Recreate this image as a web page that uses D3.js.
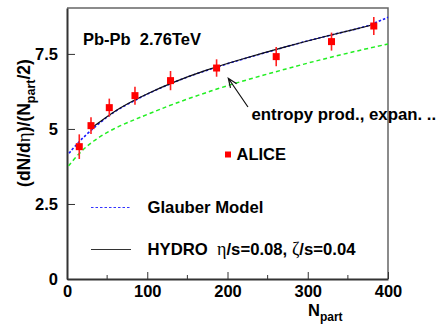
<!DOCTYPE html>
<html><head><meta charset="utf-8">
<script src="https://cdn.jsdelivr.net/npm/d3@7"></script>
<style>
html,body{margin:0;padding:0;background:#fff;}
svg{display:block;}
text{font-family:"Liberation Sans",Arial,sans-serif;font-weight:bold;fill:#000;}
.gk{font-family:"Liberation Serif","DejaVu Serif",serif;font-weight:normal;}
</style></head>
<body>
<script>
// ALICE data
const aliceNpart = [15.3, 29.9, 52.7, 84.7, 129, 186.4, 260.7, 329.6, 382.3];
const aliceVal   = [4.41, 5.11, 5.71, 6.11, 6.61, 7.03, 7.41, 7.91, 8.43];
const aliceErr   = [0.41, 0.28, 0.30, 0.30, 0.32, 0.29, 0.32, 0.30, 0.30];
// Glauber model (blue dotted)
const glauberN   = [2.5, 15, 28, 45, 61, 86, 98, 132, 174, 215, 278, 319, 361, 377, 400];
const glauberV   = [4.19, 4.58, 4.91, 5.30, 5.62, 5.97, 6.14, 6.56, 6.96, 7.30, 7.78, 8.07, 8.33, 8.45, 8.72];
// HYDRO (black solid)
const hydroN     = [32, 61, 86, 98, 132, 174, 215, 278, 319, 361, 378];
const hydroV     = [5.06, 5.64, 5.99, 6.15, 6.56, 6.97, 7.31, 7.78, 8.07, 8.33, 8.45];
// entropy production (green dashed)
const greenN     = [2, 15, 32, 57, 82, 98, 132, 174, 211, 278, 315, 361, 400];
const greenV     = [3.77, 4.19, 4.60, 5.00, 5.29, 5.46, 5.83, 6.22, 6.54, 7.04, 7.30, 7.60, 7.83];
// ticks
const xTicks = [0, 100, 200, 300, 400];
const xMinor = [50, 150, 250, 350];
const yTicks = [0, 2.5, 5, 7.5];
const yTickLabels = ["0", "2.5", "5", "7.5"];
// arrow annotation (data coords): tail -> tip
const arrowTail = [225.5, 5.73];
const arrowTip  = [201, 6.69];

const W = 440, H = 325;
const svg = d3.select("body").append("svg").attr("width", W).attr("height", H);
const x = d3.scaleLinear().domain([0, 400]).range([67, 388]);
const y = d3.scaleLinear().domain([0, 9.03]).range([279, 8]);

// frame (top/right)
svg.append("path")
  .attr("d", `M${x(0)},${y(9.03)}H${x(400)}V${y(0)}`)
  .attr("fill", "none").attr("stroke", "#666").attr("stroke-width", 1.5);

// x axis
const xAx = svg.append("g").attr("transform", `translate(0,${y(0)})`)
  .call(d3.axisBottom(x).tickValues(xTicks).tickSizeInner(-7).tickSizeOuter(0).tickPadding(10).tickFormat(d3.format("d")));
xAx.selectAll(".tick text").attr("font-size", 16.5).attr("dy", "0.71em").attr("y", 6);
svg.append("g").selectAll("line").data(xMinor).join("line")
  .attr("x1", d => x(d)).attr("x2", d => x(d)).attr("y1", y(0)).attr("y2", y(0) - 4)
  .attr("stroke", "#333").attr("stroke-width", 1);
// y axis
const yAx = svg.append("g").attr("transform", `translate(${x(0)},0)`)
  .call(d3.axisLeft(y).tickValues(yTicks).tickSizeInner(-8).tickSizeOuter(0).tickPadding(10)
    .tickFormat((d, i) => yTickLabels[i]));
yAx.selectAll(".tick text").attr("font-size", 16.5).attr("x", -9);
[xAx, yAx].forEach(a => {
  a.select(".domain").attr("stroke", "#333").attr("stroke-width", 2);
  a.selectAll(".tick line").attr("stroke", "#333").attr("stroke-width", 1);
  a.selectAll(".tick text").attr("font-family", null).attr("fill", "#000");
});

const line = d3.line().x(d => x(d[0])).y(d => y(d[1])).curve(d3.curveBasis);
const zip = (a, b) => a.map((v, i) => [v, b[i]]);

// green dashed
svg.append("path").datum(zip(greenN, greenV)).attr("d", line)
  .attr("fill", "none").attr("stroke", "#22ee22").attr("stroke-width", 1.5).attr("stroke-dasharray", "4,3");
// blue dotted
svg.append("path").datum(zip(glauberN, glauberV)).attr("d", line)
  .attr("fill", "none").attr("stroke", "#1a1aff").attr("stroke-width", 1.6).attr("stroke-dasharray", "2.5,2");
// hydro black
svg.append("path").datum(zip(hydroN, hydroV)).attr("d", line)
  .attr("fill", "none").attr("stroke", "#111").attr("stroke-width", 1.2);

// ALICE points
const pts = aliceNpart.map((n, i) => ({ n, v: aliceVal[i], e: aliceErr[i] }));
svg.append("g").selectAll("line").data(pts).join("line")
  .attr("x1", d => x(d.n)).attr("x2", d => x(d.n))
  .attr("y1", d => y(d.v - d.e)).attr("y2", d => y(d.v + d.e))
  .attr("stroke", "#ff2020").attr("stroke-width", 1.6);
svg.append("g").selectAll("rect").data(pts).join("rect")
  .attr("x", d => x(d.n) - 3.5).attr("y", d => y(d.v) - 3.5)
  .attr("width", 7).attr("height", 7).attr("fill", "#ff0000");

// arrow
const ax1 = x(arrowTail[0]), ay1 = y(arrowTail[1]), ax2 = x(arrowTip[0]), ay2 = y(arrowTip[1]);
const ang = Math.atan2(ay1 - ay2, ax1 - ax2);
const hl = 10, ha = 0.38;
svg.append("path")
  .attr("d", `M${ax1},${ay1}L${ax2},${ay2}M${ax2 + hl * Math.cos(ang - ha)},${ay2 + hl * Math.sin(ang - ha)}L${ax2},${ay2}L${ax2 + hl * Math.cos(ang + ha)},${ay2 + hl * Math.sin(ang + ha)}`)
  .attr("fill", "none").attr("stroke", "#111").attr("stroke-width", 1.2);

// texts
svg.append("text").attr("x", 83).attr("y", 45).attr("font-size", 16.5).attr("xml:space", "preserve").text("Pb-Pb  2.76TeV");
svg.append("text").attr("x", 251.5).attr("y", 119.5).attr("font-size", 16.8).text("entropy prod., expan. ..");

// legend
svg.append("rect").attr("x", 225).attr("y", 151.5).attr("width", 6).attr("height", 6).attr("fill", "#ff0000");
svg.append("text").attr("x", 236.5).attr("y", 159.5).attr("font-size", 16.5).text("ALICE");
svg.append("line").attr("x1", 91).attr("x2", 131).attr("y1", 207.5).attr("y2", 207.5)
  .attr("stroke", "#3333ff").attr("stroke-width", 1.2).attr("stroke-dasharray", "2.5,2");
svg.append("text").attr("x", 147.5).attr("y", 212.5).attr("font-size", 16.7).text("Glauber Model");
svg.append("line").attr("x1", 91).attr("x2", 131).attr("y1", 249.5).attr("y2", 249.5)
  .attr("stroke", "#333").attr("stroke-width", 1.2);
const ht = svg.append("text").attr("x", 147.5).attr("y", 255).attr("font-size", 16.7).attr("xml:space", "preserve");
ht.append("tspan").text("HYDRO  ");
ht.append("tspan").attr("class", "gk").attr("font-size", 18).text("η");
ht.append("tspan").text("/s=0.08, ");
ht.append("tspan").attr("class", "gk").attr("font-size", 18).text("ζ");
ht.append("tspan").text("/s=0.04");

// axis titles
const xt = svg.append("text").attr("x", 308).attr("y", 316).attr("font-size", 16.5);
xt.append("tspan").text("N");
xt.append("tspan").attr("font-size", 12).attr("dy", 4.5).text("part");

const yt = svg.append("text").attr("transform", "translate(30,123) rotate(-90)")
  .attr("text-anchor", "middle").attr("font-size", 17.5);
yt.append("tspan").text("(dN/d");
yt.append("tspan").attr("class", "gk").attr("font-size", 19).text("η");
yt.append("tspan").text(")/(N");
yt.append("tspan").attr("font-size", 12.5).attr("dy", 5).text("part");
yt.append("tspan").attr("dy", -5).text("/2)");
</script>
</body></html>
